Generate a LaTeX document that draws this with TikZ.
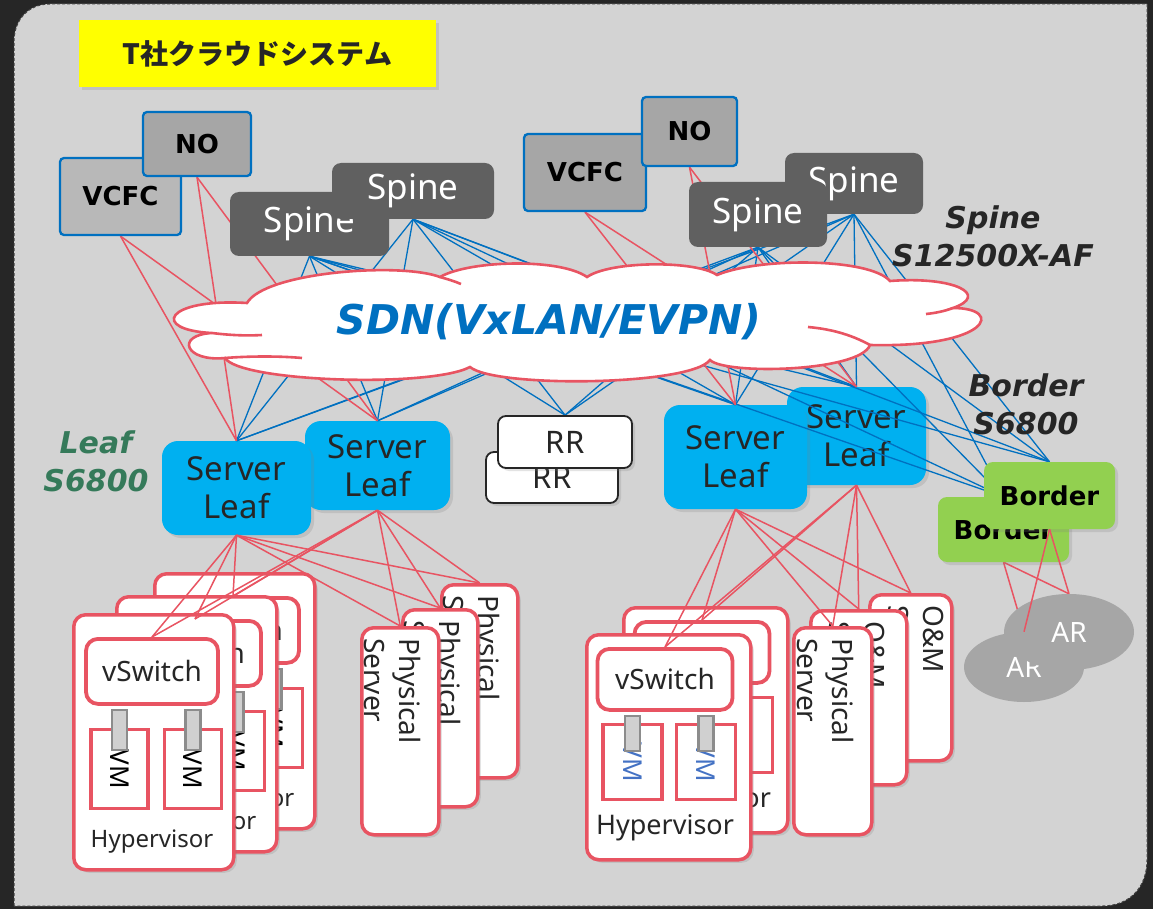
\documentclass[tikz,border=0pt]{standalone}
\usepackage{fontspec}
\setmainfont{Noto Sans}
\newfontfamily\djv{DejaVu Sans}
\newfontfamily\cjk{Noto Sans CJK JP}
\usetikzlibrary{shapes.geometric,shadows}

\definecolor{framedark}{HTML}{262626}
\definecolor{bggray}{HTML}{D3D3D3}
\definecolor{sdnblue}{HTML}{0070C0}
\definecolor{linkred}{HTML}{E85462}
\definecolor{leafblue}{HTML}{00B0F0}
\definecolor{spinegray}{HTML}{606060}
\definecolor{nogray}{HTML}{A6A6A6}
\definecolor{vcfcgray}{HTML}{B8B8B8}
\definecolor{bordergreen}{HTML}{92D050}
\definecolor{argray}{HTML}{A6A6A6}
\definecolor{titleyellow}{HTML}{FFFF00}
\definecolor{leafgreen}{HTML}{357A5A}
\definecolor{txtdark}{HTML}{262626}
\definecolor{vmblue}{HTML}{4472C4}
\definecolor{bargray}{HTML}{8C8C8C}
\definecolor{barlight}{HTML}{D0D0D0}

\pgfdeclarelayer{bg}
\pgfdeclarelayer{leafs}
\pgfdeclarelayer{links}
\pgfdeclarelayer{heads}
\pgfdeclarelayer{sdn}
\pgfsetlayers{bg,leafs,links,heads,sdn,main}

% hypervisor card: name, x, y (top left), vSwitch top, VM top, label y, VM colour, label size
\newcommand{\hvcard}[8]{%
  \node[card, anchor=north west] (#1) at (#2,#3) {};
  \node[vswbox, anchor=north] (#1sw) at (#2+80,#3+#4) {vSwitch};
  \node[vmbox, text=#7, anchor=north] (#1vmA) at (#2+47.5,#3+#5) {\rotatebox{-90}{VM}};
  \node[vmbox, text=#7, anchor=north] (#1vmB) at (#2+121,#3+#5) {\rotatebox{-90}{VM}};
  \node[vmbar, anchor=north, yshift=-3pt] (#1barA) at (#1sw.south -| #1vmA.north) {};
  \node[vmbar, anchor=north, yshift=-3pt] (#1barB) at (#1sw.south -| #1vmB.north) {};
  \node[text=txtdark, font=\fontsize{#8}{#8}\selectfont] (#1txt) at (#2+80,#3+#6) {Hypervisor};
}
% server card: name, x, y (top left), width, height, text inset, text
\newcommand{\srvcard}[7]{%
  \node[card, minimum width=#4pt, minimum height=#5pt, anchor=north west] (#1) at (#2,#3) {};
  \node[srvtext] (#1txt) at (#2+#4-#6,#3+12) {#7};
}

\begin{document}
\begin{tikzpicture}[x=1pt, y=-1pt,
    bluelink/.style={draw=sdnblue, line width=1.3pt},
    redlink/.style={draw=linkred, line width=1.5pt},
    dropsh/.style={drop shadow={shadow xshift=3pt, shadow yshift=-3pt, opacity=0.22}},
    ctrlbox/.style={draw=sdnblue, line width=2.3pt, rounded corners=4pt, font=\djv\bfseries\fontsize{26}{30}\selectfont},
    spinebox/.style={fill=spinegray, rounded corners=9pt, text=white, font=\fontsize{35}{40}\selectfont},
    leafbox/.style={dropsh, fill=leafblue, rounded corners=16pt, text=txtdark, align=center, font=\fontsize{33}{38}\selectfont},
    rrbox/.style={dropsh, draw=txtdark, line width=1.8pt, fill=white, rounded corners=8pt, text=txtdark, font=\fontsize{31}{34}\selectfont},
    borderbox/.style={dropsh, fill=bordergreen, rounded corners=9pt, font=\djv\bfseries\fontsize{26}{30}\selectfont},
    arnode/.style={ellipse, fill=argray, text=white, font=\fontsize{28}{30}\selectfont},
    modeltag/.style={align=center, font=\djv\bfseries\itshape\fontsize{30}{38}\selectfont},
    card/.style={dropsh, draw=linkred, line width=3.5pt, fill=white, rounded corners=12pt},
    vswbox/.style={draw=linkred, line width=3.8pt, fill=white, rounded corners=12pt, text=txtdark, font=\fontsize{28}{30}\selectfont},
    vmbox/.style={draw=linkred, line width=3.2pt, fill=white, font=\fontsize{26}{28}\selectfont},
    vmbar/.style={draw=bargray, fill=barlight, line width=2.6pt, minimum width=15pt, inner sep=0pt},
    srvtext/.style={rotate=-90, anchor=north west, align=left, inner sep=0pt, text=txtdark, font=\fontsize{28}{35}\selectfont},
    cloudline/.style={draw=linkred, line width=2.6pt},
  ]
  \useasboundingbox (0,0) rectangle (1153,909);

  \begin{pgfonlayer}{bg}
    \fill[framedark] (0,0) rectangle (1153,909);
    \draw[fill=bggray, draw=black!75, dash pattern=on 3pt off 2pt, line width=1pt]
      (14,906) -- (14,42) .. controls (14,20) and (28,4) .. (50,4) -- (1147,4)
      -- (1147,860) .. controls (1147,886) and (1131,906) .. (1102,906) -- cycle;
    \node[dropsh, fill=titleyellow, minimum width=357pt, minimum height=67pt, text=txtdark,
      font=\cjk\bfseries\fontsize{28}{32}\selectfont] (title) at (257.5,53.5) {T社クラウドシステム};
  \end{pgfonlayer}

  % leaves
  \begin{pgfonlayer}{leafs}
    \node[leafbox, minimum width=145pt, minimum height=89pt] (leafLb) at (377.5,465.5) {Server\\Leaf};
    \node[leafbox, minimum width=149pt, minimum height=94pt] (leafLf) at (236.5,488) {Server\\Leaf};
    \node[leafbox, minimum width=139pt, minimum height=98pt] (leafRb) at (856.5,436) {Server\\Leaf};
    \node[leafbox, minimum width=143pt, minimum height=104pt] (leafRf) at (735.5,457) {Server\\Leaf};
  \end{pgfonlayer}

  % controllers and spines
  \begin{pgfonlayer}{heads}
    \node[ctrlbox, fill=vcfcgray, minimum width=121pt, minimum height=77pt] (vcfcL) at (120.5,196.5) {VCFC};
    \node[ctrlbox, fill=nogray, minimum width=108pt, minimum height=64pt] (noL) at (197,144) {NO};
    \node[spinebox, minimum width=159pt, minimum height=64pt] (spineLf) at (309.5,224) {Spine};
    \node[spinebox, minimum width=162pt, minimum height=56pt] (spineLb) at (413,191) {Spine};
    \node[ctrlbox, fill=nogray, minimum width=122pt, minimum height=77pt] (vcfcR) at (585,172.5) {VCFC};
    \node[ctrlbox, fill=nogray, minimum width=95pt, minimum height=69pt] (noR) at (689.5,131.5) {NO};
    \node[spinebox, minimum width=138pt, minimum height=61pt] (spineRb) at (854,183.5) {Spine};
    \node[spinebox, minimum width=138pt, minimum height=65pt] (spineRf) at (758,214.5) {Spine};
  \end{pgfonlayer}

  % SDN cloud
  \begin{pgfonlayer}{sdn}
    \draw[cloudline, fill=white] (247,303)
      .. controls (265,272) and (400,262) .. (440,277)
      .. controls (470,260) and (560,258) .. (587,277)
      .. controls (610,261) and (695,260) .. (717,275)
      .. controls (760,257) and (870,258) .. (890,281)
      .. controls (955,276) and (990,295) .. (953,308)
      .. controls (1005,308) and (990,348) .. (870,345)
      .. controls (860,372) and (725,375) .. (710,360)
      .. controls (690,386) and (495,388) .. (470,367)
      .. controls (430,388) and (240,382) .. (225,358)
      .. controls (185,362) and (175,335) .. (212,333)
      .. controls (150,330) and (165,298) .. (247,303) -- cycle;
    \draw[cloudline] (953,308) .. controls (945,311) and (936,313) .. (926,314);
    \draw[cloudline] (870,345) .. controls (850,334) and (830,329) .. (808,327);
    \draw[cloudline] (212,333) .. controls (228,335) and (245,336) .. (262,335);
    \draw[cloudline] (225,358) .. controls (250,356) and (280,356) .. (302,358);
    \draw[cloudline] (440,277) .. controls (447,279) and (454,281) .. (461,284);
    \node[text=sdnblue, font=\djv\bfseries\itshape\fontsize{41}{46}\selectfont] (sdn) at (549,322) {SDN(VxLAN/EVPN)};
  \end{pgfonlayer}

  % route reflectors, borders, AR
  \node[rrbox, minimum width=132pt, minimum height=51pt] (rrB) at (552,477.5) {RR};
  \node[rrbox, minimum width=134pt, minimum height=52pt] (rrF) at (565,442) {RR};
  \node[borderbox, minimum width=131pt, minimum height=65pt] (borderB) at (1003.5,529.5) {Border};
  \node[borderbox, minimum width=131pt, minimum height=67pt] (borderF) at (1049.5,495.5) {Border};
  \node[arnode, minimum width=120pt, minimum height=70pt] (arB) at (1024,667) {AR};
  \node[arnode, minimum width=130pt, minimum height=76pt] (arF) at (1069,632) {AR};

  \node[modeltag, text=leafgreen] (leaftag) at (96,461) {Leaf\\S6800};
  \node[modeltag, text=txtdark] (spinetag) at (993,236) {Spine\\S12500X-AF};
  \node[modeltag, text=txtdark] (bordertag) at (1026,404) {Border\\S6800};

  % left hosts
  \begin{scope}[card/.append style={minimum width=160pt, minimum height=255pt},
      vswbox/.append style={minimum width=132pt, minimum height=65pt},
      vmbox/.append style={minimum width=57pt, minimum height=79pt},
      vmbar/.append style={minimum height=40pt}]
    \hvcard{hvL3}{153}{572}{24}{115}{229}{black}{24}
    \hvcard{hvL2}{115}{595}{24}{115}{229}{black}{24}
    \hvcard{hvL1}{72}{613}{24}{115}{229}{black}{24}
  \end{scope}
  \srvcard{psL3}{440}{583}{76}{193}{16}{Physical\\Server}
  \srvcard{psL2}{401}{608}{75}{197}{15}{Physical\\Server}
  \srvcard{psL1}{360}{626}{77}{207}{16}{Physical\\Server}

  % right hosts
  \begin{scope}[card/.append style={minimum width=164pt, minimum height=225pt},
      vswbox/.append style={minimum width=135pt, minimum height=61pt},
      vmbox/.append style={minimum width=59pt, minimum height=75pt},
      vmbar/.append style={minimum height=35pt}]
    \hvcard{hvR2}{622}{606}{14}{90}{195}{vmblue}{27}
    \hvcard{hvR1}{585}{633}{14}{90}{195}{vmblue}{27}
  \end{scope}
  \srvcard{omR3}{868}{593}{82}{166}{6}{O\&M\\Server}
  \srvcard{omR2}{809}{609}{96}{174}{20}{O\&M\\Server}
  \srvcard{psR1}{792}{626}{78}{207}{16}{Physical\\Server}

  % spine and controller links
  \begin{pgfonlayer}{links}
    \foreach \s in {spineLf,spineLb,spineRf,spineRb}
      \foreach \t in {leafLf,leafLb,rrF,leafRf,leafRb,borderB,borderF}
        \draw[bluelink] (\s.south) -- (\t.north);
    \foreach \c in {vcfcL,noL}
      \foreach \t in {leafLf,leafLb}
        \draw[redlink] (\c.south) -- (\t.north);
    \foreach \c in {vcfcR,noR}
      \foreach \t in {leafRf,leafRb}
        \draw[redlink] (\c.south) -- (\t.north);
    \draw[redlink] (borderB.south) -- (arB.north);
    \draw[redlink] (borderB.south) -- (arF.north);
  \end{pgfonlayer}

  % host links
  \foreach \l in {leafLf,leafLb}
    \foreach \t in {hvL1sw,hvL2sw,hvL3sw,psL1,psL2,psL3}
      \draw[redlink] (\l.south) -- (\t.north);
  \foreach \l in {leafRf,leafRb}
    \foreach \t in {hvR1sw,hvR2sw,psR1,omR2,omR3}
      \draw[redlink] (\l.south) -- (\t.north);
  \draw[redlink] (borderF.south) -- (arB.north);
  \draw[redlink] (borderF.south) -- (arF.north);
\end{tikzpicture}
\end{document}
